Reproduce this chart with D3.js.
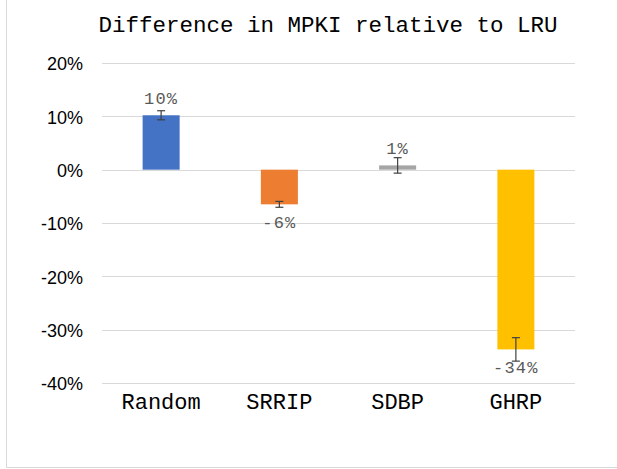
<!DOCTYPE html>
<html>
<head>
<meta charset="utf-8">
<script src="https://cdn.jsdelivr.net/npm/d3@7"></script>
<style>
  body { margin: 0; background: #fff; }
</style>
</head>
<body>
<div class="chart"></div>
<script>
const categories = ["Random", "SRRIP", "SDBP", "GHRP"];
const values = [10.2, -6.5, 0.8, -33.7];       // % difference in MPKI
const errors = [0.85, 0.55, 1.45, 2.2];         // error bar half-width
const labels = ["10%", "-6%", "1%", "-34%"];
const yTicks = [20, 10, 0, -10, -20, -30, -40];
const colors = ["#4472C4", "#ED7D31", "#A5A5A5", "#FFC000"];

const width = 617;
const height = 469;
const monoFont = "'Courier New', 'Liberation Mono', monospace";

const svg = d3.select(".chart")
    .append("svg")
    .attr("width", width)
    .attr("height", height);

// chart area border (left and bottom edges visible)
svg.append("line")
    .attr("x1", 6.5).attr("x2", 6.5)
    .attr("y1", 0).attr("y2", 467.5)
    .style("stroke", "#d9d9d9");
svg.append("line")
    .attr("x1", 6.5).attr("x2", width)
    .attr("y1", 467.5).attr("y2", 467.5)
    .style("stroke", "#d9d9d9");

const x = d3.scaleBand()
    .domain(categories)
    .range([102, 575])
    .paddingInner(0.687)
    .paddingOuter(0.3435);

const y = d3.scaleLinear()
    .domain([-40, 20])
    .range([383, 63]);

svg.append("text")
    .attr("x", 328)
    .attr("y", 32)
    .attr("text-anchor", "middle")
    .style("font-family", monoFont)
    .style("font-size", "22.5px")
    .style("fill", "#000")
    .text("Difference in MPKI relative to LRU");

// gridlines
svg.selectAll(".grid")
    .data(yTicks)
    .enter()
    .append("line")
    .attr("class", "grid")
    .attr("x1", 102)
    .attr("x2", 575)
    .attr("y1", d => Math.round(y(d)) + 0.5)
    .attr("y2", d => Math.round(y(d)) + 0.5)
    .style("stroke", "#d9d9d9")
    .style("stroke-width", 1);

// y axis labels
const yAxis = d3.axisLeft(y)
    .tickValues(yTicks)
    .tickSize(0)
    .tickPadding(0)
    .tickFormat(d => d + "%");

svg.append("g")
    .attr("transform", "translate(83,1)")
    .call(yAxis)
    .call(g => g.select(".domain").remove())
    .selectAll("text")
    .style("font-family", "'Liberation Sans', Arial, sans-serif")
    .style("font-size", "18px")
    .style("fill", "#000");

// bars
svg.selectAll(".bar")
    .data(values)
    .enter()
    .append("rect")
    .attr("class", "bar")
    .attr("x", (d, i) => x(categories[i]))
    .attr("width", x.bandwidth())
    .attr("y", d => y(Math.max(0, d)))
    .attr("height", d => Math.abs(y(d) - y(0)))
    .style("fill", (d, i) => colors[i]);

// error bars
const capW = 4;
const err = svg.selectAll(".err")
    .data(values)
    .enter()
    .append("g")
    .attr("class", "err")
    .style("stroke", "#404040")
    .style("stroke-width", 1.2);

err.append("line")
    .attr("x1", (d, i) => x(categories[i]) + x.bandwidth() / 2)
    .attr("x2", (d, i) => x(categories[i]) + x.bandwidth() / 2)
    .attr("y1", (d, i) => y(d + errors[i]))
    .attr("y2", (d, i) => y(d - errors[i]));
err.append("line")
    .attr("x1", (d, i) => x(categories[i]) + x.bandwidth() / 2 - capW)
    .attr("x2", (d, i) => x(categories[i]) + x.bandwidth() / 2 + capW)
    .attr("y1", (d, i) => y(d + errors[i]))
    .attr("y2", (d, i) => y(d + errors[i]));
err.append("line")
    .attr("x1", (d, i) => x(categories[i]) + x.bandwidth() / 2 - capW)
    .attr("x2", (d, i) => x(categories[i]) + x.bandwidth() / 2 + capW)
    .attr("y1", (d, i) => y(d - errors[i]))
    .attr("y2", (d, i) => y(d - errors[i]));

// data labels
svg.selectAll(".dlabel")
    .data(values)
    .enter()
    .append("text")
    .attr("class", "dlabel")
    .attr("x", (d, i) => x(categories[i]) + x.bandwidth() / 2)
    .attr("y", d => d >= 0 ? y(d) - 11 : y(d) + 24)
    .attr("text-anchor", "middle")
    .style("font-family", monoFont)
    .style("font-size", "17px")
    .style("letter-spacing", "1.2px")
    .style("fill", "#595959")
    .text((d, i) => labels[i]);

// category labels
svg.selectAll(".cat")
    .data(categories)
    .enter()
    .append("text")
    .attr("class", "cat")
    .attr("x", d => x(d) + x.bandwidth() / 2)
    .attr("y", 409)
    .attr("text-anchor", "middle")
    .style("font-family", monoFont)
    .style("font-size", "22px")
    .style("fill", "#000")
    .text(d => d);
</script>
</body>
</html>
